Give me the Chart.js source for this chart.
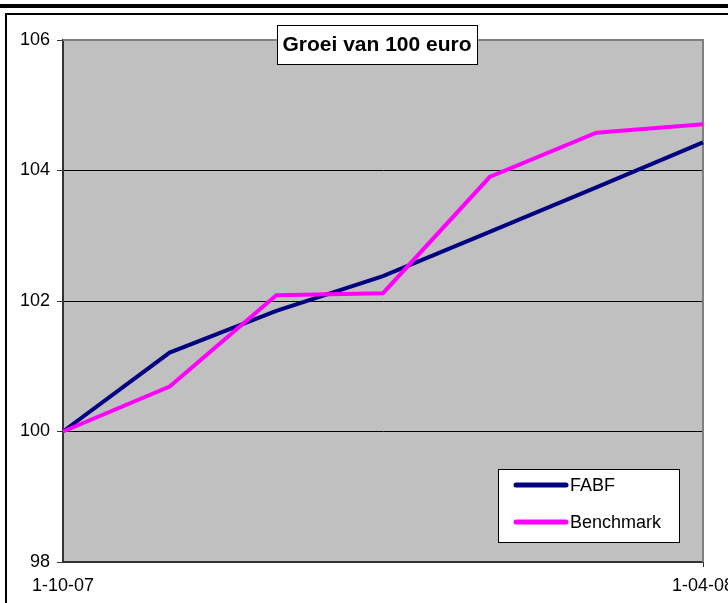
<!DOCTYPE html>
<html lang="nl">
<head>
    <meta charset="UTF-8" />
    <title>Groei van 100 euro</title>
    <script src="https://cdn.jsdelivr.net/npm/chart.js"></script>
    <style>
        html, body { margin: 0; padding: 0; background: white; }
        #chart { display: block; }
    </style>
</head>
<body>
    <canvas id="chart" width="728" height="603"></canvas>

    <script>
        // data
        const titleText = "Groei van 100 euro";
        const months = ["1-10-07", "1-11-07", "1-12-07", "1-01-08", "1-02-08", "1-03-08", "1-04-08"];
        const fabf = [100, 101.21, 101.85, 102.38, 103.06, 103.74, 104.43];
        const benchmark = [100, 100.69, 102.09, 102.12, 103.90, 104.58, 104.71];
        const yTicks = [98, 100, 102, 104, 106];

        const FONT = 'Arial, "Liberation Sans", sans-serif';
        const lastIdx = months.length - 1;

        // frame, plot background, title box and legend box
        const decor = {
            id: "decor",
            beforeDraw(chart) {
                const ctx = chart.ctx;
                const a = chart.chartArea;
                ctx.save();
                ctx.fillStyle = "#000";
                ctx.fillRect(0, 4, chart.width, 4);      // thick top bar
                ctx.fillRect(5, 13, chart.width - 5, 2); // frame top
                ctx.fillRect(5, 13, 2, chart.height);    // frame left
                ctx.fillStyle = "#c0c0c0";
                ctx.fillRect(a.left, a.top, a.right - a.left, a.bottom - a.top);
                ctx.restore();
            },
            beforeDatasetsDraw(chart) {
                const ctx = chart.ctx;
                const a = chart.chartArea;
                ctx.save();
                ctx.strokeStyle = "#808080";
                ctx.lineWidth = 2;
                ctx.beginPath();
                ctx.moveTo(a.left, a.top);
                ctx.lineTo(a.right, a.top);
                ctx.lineTo(a.right, a.bottom);
                ctx.stroke();
                ctx.restore();
            },
            afterDraw(chart) {
                const ctx = chart.ctx;
                ctx.save();
                // title box
                ctx.fillStyle = "#fff";
                ctx.fillRect(277, 25, 200, 39);
                ctx.strokeStyle = "#000";
                ctx.lineWidth = 1;
                ctx.strokeRect(277.5, 25.5, 200, 39);
                ctx.fillStyle = "#000";
                ctx.font = "bold 21px " + FONT;
                ctx.textAlign = "center";
                ctx.textBaseline = "middle";
                ctx.fillText(titleText, 377, 45);

                // legend box
                ctx.fillStyle = "#fff";
                ctx.fillRect(498, 469, 182, 74);
                ctx.strokeRect(498.5, 469.5, 181, 73);
                ctx.font = "18px " + FONT;
                ctx.textAlign = "left";
                const rows = [485, 522];
                chart.data.datasets.forEach(function (ds, i) {
                    ctx.strokeStyle = ds.borderColor;
                    ctx.lineWidth = 5;
                    ctx.lineCap = "round";
                    ctx.beginPath();
                    ctx.moveTo(516, rows[i]);
                    ctx.lineTo(566, rows[i]);
                    ctx.stroke();
                    ctx.fillStyle = "#000";
                    ctx.fillText(ds.label, 570, rows[i] + 1);
                });
                ctx.restore();
            }
        };

        new Chart(document.getElementById("chart"), {
            type: "line",
            data: {
                labels: months,
                datasets: [
                    { label: "FABF", data: fabf, borderColor: "#000080", borderWidth: 4, order: 1 },
                    { label: "Benchmark", data: benchmark, borderColor: "#ff00ff", borderWidth: 4, order: 0 }
                ]
            },
            options: {
                responsive: false,
                animation: false,
                devicePixelRatio: 1,
                layout: { padding: { top: 40, right: 25, left: 0, bottom: 0 } },
                elements: { point: { radius: 0 }, line: { tension: 0, fill: false } },
                plugins: { legend: { display: false }, tooltip: { enabled: false }, title: { display: false } },
                scales: {
                    x: {
                        offset: false,
                        grid: {
                            drawOnChartArea: false,
                            tickLength: 5,
                            tickColor: (c) => c.index === lastIdx ? "#333" : "rgba(0,0,0,0)",
                            color: (c) => c.index === lastIdx ? "#333" : "rgba(0,0,0,0)"
                        },
                        border: { color: "#333", width: 2 },
                        ticks: {
                            autoSkip: false,
                            maxRotation: 0,
                            padding: 8,
                            color: "#000",
                            font: { family: FONT, size: 18 },
                            callback: function (v, i) { return (i === 0 || i === lastIdx) ? months[i] : ""; }
                        },
                        afterFit: function (scale) {
                            scale.height = 41;
                            scale.paddingLeft = 0;
                            scale.paddingRight = 0;
                        }
                    },
                    y: {
                        min: yTicks[0],
                        max: yTicks[yTicks.length - 1],
                        afterBuildTicks: function (scale) {
                            scale.ticks = yTicks.map(v => ({ value: v }));
                        },
                        grid: {
                            tickLength: 6,
                            color: (c) => (c.tick && (c.tick.value === yTicks[0] || c.tick.value === yTicks[yTicks.length - 1])) ? "rgba(0,0,0,0)" : "#000",
                            tickColor: "#333"
                        },
                        border: { color: "#333", width: 2 },
                        ticks: {
                            padding: 7,
                            color: "#000",
                            font: { family: FONT, size: 18 }
                        },
                        afterFit: function (scale) {
                            scale.width = 63;
                            scale.paddingTop = 0;
                            scale.paddingBottom = 0;
                        }
                    }
                }
            },
            plugins: [decor]
        });
    </script>
</body>
</html>
